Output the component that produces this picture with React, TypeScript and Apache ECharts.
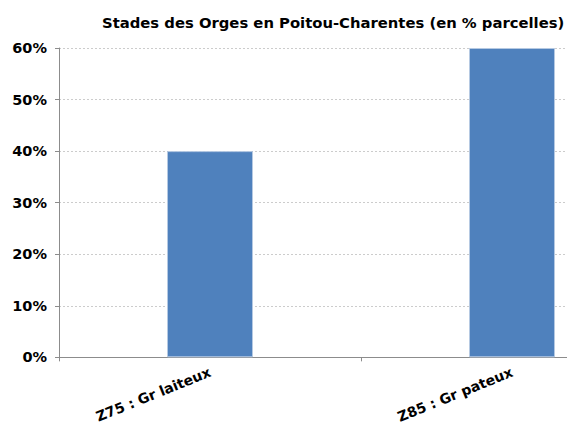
import React, { useEffect, useRef } from "react";
import * as echarts from "echarts";

const categories = ["Z75 : Gr laiteux", "Z85 : Gr pateux"];
const emptyBefore: (number | null)[] = [null, null];
const stageValues = [40, 60];
const emptyAfter: (number | null)[] = [null, null];
const titleText = "Stades des Orges en Poitou-Charentes (en % parcelles)";

export default function App() {
  const ref = useRef<HTMLDivElement>(null);
  useEffect(() => {
    document.body.style.margin = "0";
    const chart = echarts.init(ref.current!, null, { renderer: "svg" });
    const font = "DejaVu Sans, Verdana, sans-serif";
    const barCommon = { type: "bar" as const, barWidth: 86, barGap: "0%" };
    chart.setOption({
      animation: false,
      backgroundColor: "#ffffff",
      title: {
        text: titleText,
        left: 97,
        top: 10,
        textStyle: { fontFamily: font, fontWeight: "bold", fontSize: 14.8, color: "#000" },
      },
      grid: { left: 59, top: 48, width: 604, height: 310, containLabel: false },
      xAxis: {
        type: "category",
        data: categories,
        axisLine: { lineStyle: { color: "#8c8c8c", width: 1 } },
        axisTick: { show: true, length: 4, lineStyle: { color: "#8c8c8c" } },
        axisLabel: {
          rotate: 22,
          margin: 14,
          fontFamily: font,
          fontWeight: "bold",
          fontSize: 14,
          color: "#000",
        },
      },
      yAxis: {
        type: "value",
        min: 0,
        max: 60,
        interval: 10,
        axisLine: { show: true, lineStyle: { color: "#8c8c8c", width: 1 } },
        axisTick: { show: true, length: 4, lineStyle: { color: "#8c8c8c" } },
        axisLabel: {
          formatter: "{value}%",
          margin: 12,
          fontFamily: font,
          fontWeight: "bold",
          fontSize: 14.5,
          color: "#000",
        },
        splitLine: { show: true, lineStyle: { color: "#cccccc", type: [2, 2], width: 1 } },
      },
      series: [
        { ...barCommon, name: "a", data: emptyBefore, itemStyle: { color: "#4F81BD" } },
        {
          ...barCommon,
          name: "Stades",
          data: stageValues,
          itemStyle: { color: "#4F81BD", borderColor: "#b5c9e2", borderWidth: 1 },
        },
        { ...barCommon, name: "c", data: emptyAfter, itemStyle: { color: "#4F81BD" } },
      ],
    });
    return () => chart.dispose();
  }, []);
  return (
    <div style={{ position: "absolute", left: 0, top: 0, width: 567, height: 425, overflow: "hidden" }}>
      <div ref={ref} style={{ width: 680, height: 425 }} />
    </div>
  );
}
